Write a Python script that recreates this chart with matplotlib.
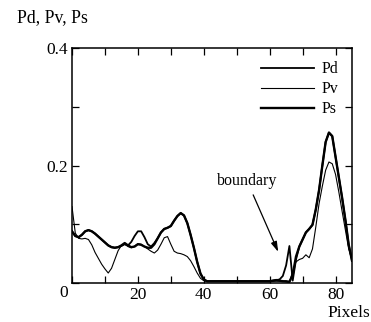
import matplotlib
matplotlib.use("Agg")
import matplotlib.pyplot as plt
from matplotlib.ticker import MultipleLocator

plt.rcParams['font.family'] = ['Liberation Serif', 'DejaVu Serif']

pixels = list(range(86))

ps = [0.088, 0.080, 0.078, 0.082, 0.088, 0.090, 0.088, 0.084, 0.079, 0.074,
      0.069, 0.064, 0.061, 0.060, 0.061, 0.064, 0.068, 0.064, 0.061, 0.062,
      0.066, 0.065, 0.062, 0.060, 0.060, 0.066, 0.076, 0.086, 0.092, 0.094,
      0.097, 0.106, 0.114, 0.119, 0.115, 0.102, 0.082, 0.060, 0.036, 0.016,
      0.006, 0.003, 0.003, 0.003, 0.003, 0.003, 0.003, 0.003, 0.003, 0.003,
      0.003, 0.003, 0.003, 0.003, 0.003, 0.003, 0.003, 0.003, 0.003, 0.003,
      0.003, 0.004, 0.005, 0.004, 0.003, 0.003, 0.002, 0.014, 0.045, 0.062,
      0.074, 0.086, 0.092, 0.099, 0.125, 0.158, 0.200, 0.240, 0.256, 0.250,
      0.215, 0.180, 0.145, 0.107, 0.065, 0.038]

pd_ = [0.088, 0.080, 0.078, 0.082, 0.088, 0.090, 0.088, 0.084, 0.079, 0.074,
       0.069, 0.064, 0.061, 0.060, 0.061, 0.063, 0.066, 0.064, 0.070, 0.080,
       0.088, 0.088, 0.078, 0.066, 0.062, 0.068, 0.076, 0.086, 0.092, 0.094,
       0.097, 0.106, 0.114, 0.119, 0.115, 0.102, 0.082, 0.060, 0.036, 0.016,
       0.006, 0.003, 0.003, 0.003, 0.003, 0.003, 0.003, 0.003, 0.003, 0.003,
       0.003, 0.003, 0.003, 0.003, 0.003, 0.003, 0.003, 0.003, 0.003, 0.003,
       0.003, 0.004, 0.005, 0.006, 0.012, 0.030, 0.063, 0.004, 0.040, 0.062,
       0.074, 0.086, 0.092, 0.099, 0.125, 0.158, 0.200, 0.240, 0.256, 0.250,
       0.215, 0.180, 0.145, 0.107, 0.065, 0.038]

pv = [0.130, 0.085, 0.076, 0.075, 0.076, 0.074, 0.065, 0.052, 0.042, 0.032,
      0.024, 0.017, 0.025, 0.040, 0.055, 0.064, 0.066, 0.062, 0.060, 0.063,
      0.067, 0.066, 0.062, 0.058, 0.054, 0.051, 0.056, 0.066, 0.077, 0.079,
      0.066, 0.054, 0.051, 0.050, 0.048, 0.045, 0.038, 0.028, 0.017, 0.008,
      0.004, 0.003, 0.003, 0.003, 0.003, 0.003, 0.003, 0.003, 0.003, 0.003,
      0.003, 0.003, 0.003, 0.003, 0.003, 0.003, 0.003, 0.003, 0.003, 0.003,
      0.003, 0.003, 0.003, 0.003, 0.003, 0.002, 0.001, 0.020, 0.036, 0.040,
      0.042, 0.048, 0.043, 0.058, 0.095, 0.135, 0.165, 0.192, 0.206, 0.203,
      0.185, 0.155, 0.122, 0.090, 0.058, 0.040]

W, H = 371, 322
fig = plt.figure(figsize=(W / 100, H / 100), dpi=100)
ax = fig.add_axes([72 / W, 1 - 283 / H, 280 / W, 235 / H])

ax.plot(pixels, pd_, color='black', lw=1.3, label='Pd')
ax.plot(pixels, pv, color='black', lw=0.8, label='Pv')
ax.plot(pixels, ps, color='black', lw=1.7, label='Ps')

ax.set_xlim(0, 85)
ax.set_ylim(0, 0.4)
ax.xaxis.set_minor_locator(MultipleLocator(10))
ax.yaxis.set_minor_locator(MultipleLocator(0.1))
ax.tick_params(which='both', direction='in', top=True, right=True,
               length=5, width=0.9, labelsize=12.5)
ax.tick_params(axis='x', pad=3)
ax.tick_params(axis='y', pad=3)
ax.set_xticks([20, 40, 60, 80])
ax.set_xticklabels(['20', '40', '60', '80'])
ax.set_yticks([0.2, 0.4])
ax.set_yticklabels(['0.2', '0.4'])
for s in ax.spines.values():
    s.set_linewidth(1.1)

fig.text(64 / W, 1 - 293 / H, '0', fontsize=12.5, ha='center', va='center')
fig.text(349 / W, 1 - 313 / H, 'Pixels', fontsize=12.5, ha='center', va='center')
fig.text(17 / W, 1 - 18 / H, 'Pd, Pv, Ps', fontsize=12.8, ha='left', va='center')

ax.text(53.2, 0.174, 'boundary', fontsize=11.5, ha='center', va='center')
ax.annotate('', xy=(62.6, 0.053), xytext=(55.0, 0.150),
            arrowprops=dict(arrowstyle='-|>,head_length=0.6,head_width=0.18',
                            color='black', lw=0.9, shrinkA=0, shrinkB=0))

ax.legend(loc='upper right', bbox_to_anchor=(0.975, 0.97), frameon=False,
          handlelength=3.3, fontsize=11.5, handletextpad=0.5,
          labelspacing=0.25, borderaxespad=0)

fig.savefig('out.png', dpi=100)
